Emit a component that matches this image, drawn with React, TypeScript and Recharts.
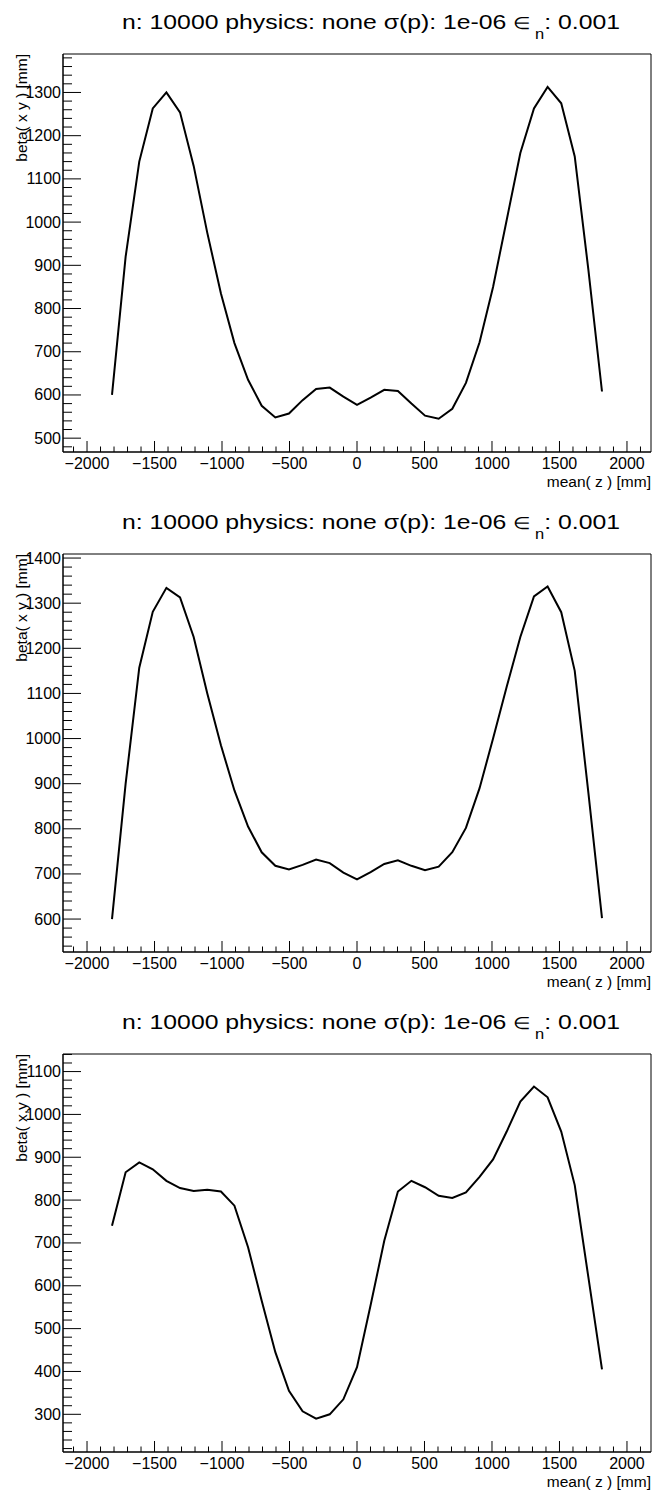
import React from 'react';
import { LineChart, Line, XAxis, YAxis, ReferenceArea } from 'recharts';

// element positions along z [mm]
const zPositions = [
  -1815, -1714, -1613, -1513, -1412, -1311, -1210, -1109, -1008, -908, -807, -706, -605,
  -504, -403, -303, -202, -101, 0, 101, 202, 303, 403, 504, 605, 706, 807, 908, 1008,
  1109, 1210, 1311, 1412, 1513, 1613, 1714, 1815,
];

// beta( x y ) [mm], first panel
const betaPanel1 = [
  600, 920, 1140, 1263, 1300, 1254, 1130, 975, 835, 720, 635, 575, 548,
  557, 588, 614, 617, 596, 577, 594, 612, 609, 580, 552, 545, 568, 628, 722, 850,
  1005, 1160, 1263, 1313, 1275, 1152, 890, 608,
];

// beta( x y ) [mm], second panel
const betaPanel2 = [
  600, 900, 1157, 1281, 1334, 1313, 1225, 1100, 985, 885, 805, 748, 718,
  710, 720, 732, 724, 703, 688, 704, 722, 730, 718, 708, 716, 748, 802, 890, 1000,
  1115, 1225, 1315, 1337, 1280, 1150, 880, 602,
];

// beta( x,y ) [mm], third panel
const betaPanel3 = [
  740, 865, 888, 872, 845, 828, 821, 824, 820, 787, 690, 565, 445,
  355, 307, 290, 300, 335, 410, 555, 705, 820, 845, 830, 810, 805, 818, 854, 895,
  960, 1030, 1065, 1040, 960, 835, 620, 405,
];

const panelTitles = [
  'beta( x y ) [mm]',
  'beta( x y ) [mm]',
  'beta( x,y ) [mm]',
];

const yDomains = [
  [468, 1389],
  [527, 1409],
  [212, 1141],
];

const xDomain = [-2178, 2178];

const range = (a: number, b: number, step: number) => {
  const out: number[] = [];
  for (let v = a; v <= b; v += step) out.push(v);
  return out;
};

const FONT = 'Liberation Sans, Arial, Helvetica, sans-serif';
const W = 653;
const H = 497;
const LABEL_SIZE = 16;

const fmt = (v: number) => (v < 0 ? '\u2212' + Math.abs(v) : String(v));

const XTick = (props: any) => {
  const { x, y, payload } = props;
  const v = payload.value;
  const major = v % 500 === 0;
  return (
    <g>
      <line x1={x} y1={y} x2={x} y2={y - (major ? 11 : 5.5)} stroke="#000" strokeWidth={1} />
      {major && (
        <text x={x} y={y + 17} textAnchor="middle" fontSize={LABEL_SIZE} fontFamily={FONT} fill="#000">
          {fmt(v)}
        </text>
      )}
    </g>
  );
};

const YTick = (props: any) => {
  const { x, y, payload } = props;
  const v = payload.value;
  const major = v % 100 === 0;
  return (
    <g>
      <line x1={x} y1={y} x2={x + (major ? 18 : 9)} y2={y} stroke="#000" strokeWidth={1} />
      {major && (
        <text x={x - 2} y={y + 5.5} textAnchor="end" fontSize={LABEL_SIZE} fontFamily={FONT} fill="#000">
          {v}
        </text>
      )}
    </g>
  );
};

const Panel = ({ values, yLabel, yDomain }: { values: number[]; yLabel: string; yDomain: number[] }) => {
  const data = zPositions.map((z, i) => ({ z, beta: values[i] }));
  const yTicks = range(Math.ceil(yDomain[0] / 20) * 20, yDomain[1], 20);
  const xTicks = range(-2100, 2100, 100);
  return (
    <div style={{ position: 'relative', width: W, height: H }}>
      <LineChart width={W} height={H} data={data} margin={{ top: 54, right: 2, bottom: 0, left: 0 }}>
        <XAxis
          dataKey="z"
          type="number"
          domain={xDomain}
          ticks={xTicks}
          interval={0}
          tickSize={0}
          tickMargin={0}
          tickLine={false}
          tick={<XTick />}
          height={45}
          axisLine={{ stroke: '#000' }}
          allowDataOverflow
        />
        <YAxis
          type="number"
          domain={yDomain}
          ticks={yTicks}
          interval={0}
          tickSize={0}
          tickMargin={0}
          tickLine={false}
          tick={<YTick />}
          width={63}
          axisLine={{ stroke: '#000' }}
          allowDataOverflow
        />
        <ReferenceArea
          x1={xDomain[0]}
          x2={xDomain[1]}
          y1={yDomain[0]}
          y2={yDomain[1]}
          fill="none"
          stroke="#000"
          strokeWidth={1}
          ifOverflow="visible"
        />
        <Line
          type="linear"
          dataKey="beta"
          stroke="#000"
          strokeWidth={2}
          dot={false}
          isAnimationActive={false}
        />
      </LineChart>
      <svg width={W} height={H} style={{ position: 'absolute', left: 0, top: 0, pointerEvents: 'none' }}>
        <g transform="translate(371,29) scale(1.18,1)">
          <text x={0} y={0} textAnchor="middle" fontSize={21} fontFamily={FONT} fill="#000">
            n: 10000 physics: none σ(p): 1e-06 <tspan fontSize={17}>∈</tspan>
            <tspan dx={3} dy={10} fontSize={14}>n</tspan>
            <tspan dy={-10}>: 0.001</tspan>
          </text>
        </g>
        <text
          x={0}
          y={0}
          transform="translate(27,54) rotate(-90)"
          textAnchor="end"
          fontSize={15.5}
          fontFamily={FONT}
          fill="#000"
        >
          {yLabel}
        </text>
        <text x={651} y={487} textAnchor="end" fontSize={15.5} fontFamily={FONT} fill="#000">
          mean( z ) [mm]
        </text>
      </svg>
    </div>
  );
};

export default function App() {
  const series = [betaPanel1, betaPanel2, betaPanel3];
  return (
    <div style={{ position: 'absolute', left: 0, top: 0, width: W, height: 1491, background: '#fff', overflow: 'hidden' }}>
      {series.map((vals, i) => (
        <div key={i} style={{ position: 'absolute', left: 0, top: i * 500 }}>
          <Panel values={vals} yLabel={panelTitles[i]} yDomain={yDomains[i]} />
        </div>
      ))}
    </div>
  );
}
